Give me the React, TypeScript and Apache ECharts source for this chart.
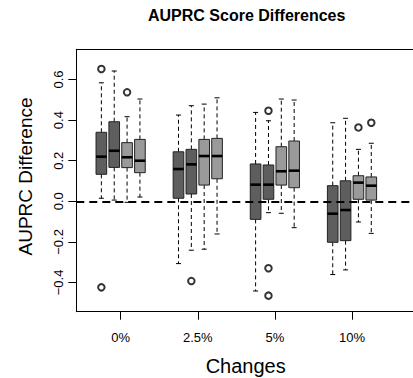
import React, { useEffect, useRef } from "react";
import * as echarts from "echarts";

const categories = ["0%", "2.5%", "5%", "10%"];
const yTicks = [-0.4, -0.2, 0, 0.2, 0.4, 0.6];
// each box: [groupIndex, boxIndex, lowerWhisker, q1, median, q3, upperWhisker]
const boxStats = [
  [0, 0, 0.015, 0.133, 0.22, 0.34, 0.584],
  [0, 1, 0.006, 0.167, 0.249, 0.392, 0.642],
  [0, 2, -0.005, 0.166, 0.217, 0.289, 0.417],
  [0, 3, 0.021, 0.141, 0.2, 0.305, 0.504],
  [1, 0, -0.307, 0.015, 0.159, 0.244, 0.425],
  [1, 1, -0.241, 0.036, 0.182, 0.256, 0.471],
  [1, 2, -0.236, 0.08, 0.223, 0.305, 0.479],
  [1, 3, -0.161, 0.111, 0.223, 0.31, 0.51],
  [2, 0, -0.442, -0.089, 0.082, 0.184, 0.438],
  [2, 1, -0.056, 0.01, 0.082, 0.179, 0.397],
  [2, 2, -0.059, 0.08, 0.148, 0.269, 0.504],
  [2, 3, -0.13, 0.067, 0.151, 0.297, 0.499],
  [3, 0, -0.361, -0.202, -0.061, 0.077, 0.387],
  [3, 1, -0.338, -0.194, -0.043, 0.101, 0.409],
  [3, 2, -0.102, 0.01, 0.092, 0.126, 0.256],
  [3, 3, -0.158, 0.006, 0.077, 0.12, 0.286],
];
// outliers: [groupIndex, boxIndex, value]
const outliers = [
  [0, 0, 0.652],
  [0, 0, -0.424],
  [0, 2, 0.537],
  [1, 1, -0.393],
  [2, 1, 0.446],
  [2, 1, -0.33],
  [2, 1, -0.465],
  [3, 2, 0.364],
  [3, 3, 0.387],
];
const boxOffsets = [-0.25, -0.0833, 0.0833, 0.25];
const boxColors = ["#5e5e5e", "#5e5e5e", "#9a9a9a", "#9a9a9a"];

const FONT = "Liberation Sans, Arial, Helvetica, sans-serif";

export default function App() {
  const ref = useRef<HTMLDivElement>(null);
  useEffect(() => {
    if (!ref.current) return;
    const chart = echarts.init(ref.current, null, { renderer: "svg" });
    const boxData = boxStats.map((b) => [
      b[0] + 1 + boxOffsets[b[1]],
      b[2],
      b[3],
      b[4],
      b[5],
      b[6],
      b[1],
    ]);
    const outData = outliers.map((o) => [o[0] + 1 + boxOffsets[o[1]], o[2]]);
    const xMin = 0.425;
    const xMax = 4.791;
    chart.setOption({
      animation: false,
      grid: { left: 76.3, top: 49.3, bottom: 66.3, right: -20 },
      xAxis: [
        {
          type: "value",
          min: xMin,
          max: xMax,
          splitLine: { show: false },
          axisLine: { show: true, onZero: false, lineStyle: { color: "#000", width: 1 } },
          axisTick: { show: true, length: 8, customValues: [1, 2, 3, 4], lineStyle: { color: "#000" } },
          axisLabel: {
            customValues: [1, 2, 3, 4],
            formatter: (v: number) => categories[Math.round(v) - 1] ?? "",
            color: "#000",
            fontFamily: FONT,
            fontSize: 13,
            margin: 19,
          },
        },
        {
          type: "value",
          position: "top",
          min: xMin,
          max: xMax,
          splitLine: { show: false },
          axisLine: { show: true, onZero: false, lineStyle: { color: "#000", width: 1 } },
          axisTick: { show: false },
          axisLabel: { show: false },
        },
      ],
      yAxis: {
        type: "value",
        min: -0.544,
        max: 0.749,
        splitLine: { show: false },
        axisLine: { show: true, onZero: false, lineStyle: { color: "#000", width: 1 } },
        axisTick: { show: true, length: 8, customValues: yTicks, lineStyle: { color: "#000" } },
        axisLabel: {
          customValues: yTicks,
          rotate: 90,
          formatter: (v: number) => {
            const s = (Math.round(v * 10) / 10).toFixed(1);
            return s.replace("-", "\u2212");
          },
          color: "#000",
          fontFamily: FONT,
          fontSize: 13,
          margin: 11,
        },
      },
      series: [
        {
          type: "custom",
          data: boxData,
          z: 2,
          renderItem: (params: any, api: any) => {
            const x = api.value(0);
            const lo = api.coord([x, api.value(1)]);
            const q1 = api.coord([x, api.value(2)]);
            const med = api.coord([x, api.value(3)]);
            const q3 = api.coord([x, api.value(4)]);
            const hi = api.coord([x, api.value(5)]);
            const idx = api.value(6);
            const w = api.size([0.138, 0])[0];
            const cx = lo[0];
            const capW = 2.5;
            const dash = { stroke: "#000", lineWidth: 1, lineDash: [4, 3] };
            return {
              type: "group",
              children: [
                { type: "line", shape: { x1: cx, y1: q3[1], x2: cx, y2: hi[1] }, style: dash },
                { type: "line", shape: { x1: cx, y1: q1[1], x2: cx, y2: lo[1] }, style: dash },
                { type: "line", shape: { x1: cx - capW, y1: hi[1], x2: cx + capW, y2: hi[1] }, style: { stroke: "#000", lineWidth: 1 } },
                { type: "line", shape: { x1: cx - capW, y1: lo[1], x2: cx + capW, y2: lo[1] }, style: { stroke: "#000", lineWidth: 1 } },
                {
                  type: "rect",
                  shape: { x: cx - w / 2, y: q3[1], width: w, height: q1[1] - q3[1] },
                  style: { fill: boxColors[idx], stroke: "#222", lineWidth: 1 },
                },
                {
                  type: "line",
                  shape: { x1: cx - w / 2, y1: med[1], x2: cx + w / 2, y2: med[1] },
                  style: { stroke: "#000", lineWidth: 2.6 },
                },
              ],
            };
          },
        },
        {
          type: "scatter",
          data: outData,
          symbol: "emptyCircle",
          symbolSize: 6.5,
          itemStyle: { color: "#000", borderColor: "#000", borderWidth: 0.8 },
          z: 3,
          markLine: {
            silent: true,
            symbol: ["none", "none"],
            label: { show: false },
            lineStyle: { type: [8, 5], width: 1.8, color: "#000" },
            data: [{ yAxis: 0 }],
            z: 5,
          },
        },
      ],
      graphic: [
        {
          type: "text",
          x: 246.7,
          y: 15,
          style: {
            text: "AUPRC Score Differences",
            fontFamily: FONT,
            fontWeight: "bold",
            fontSize: 16,
            fill: "#000",
            textAlign: "center",
            textVerticalAlign: "middle",
          },
        },
        {
          type: "text",
          x: 245.7,
          y: 366,
          style: {
            text: "Changes",
            fontFamily: FONT,
            fontSize: 20,
            fill: "#000",
            textAlign: "center",
            textVerticalAlign: "middle",
          },
        },
        {
          type: "text",
          x: 25,
          y: 176.5,
          rotation: Math.PI / 2,
          style: {
            text: "AUPRC Difference",
            fontFamily: FONT,
            fontSize: 19,
            fill: "#000",
            textAlign: "center",
            textVerticalAlign: "middle",
          },
        },
      ],
    });
    return () => chart.dispose();
  }, []);
  return (
    <div
      ref={ref}
      style={{ position: "absolute", left: 0, top: 0, width: 413, height: 378 }}
    />
  );
}
